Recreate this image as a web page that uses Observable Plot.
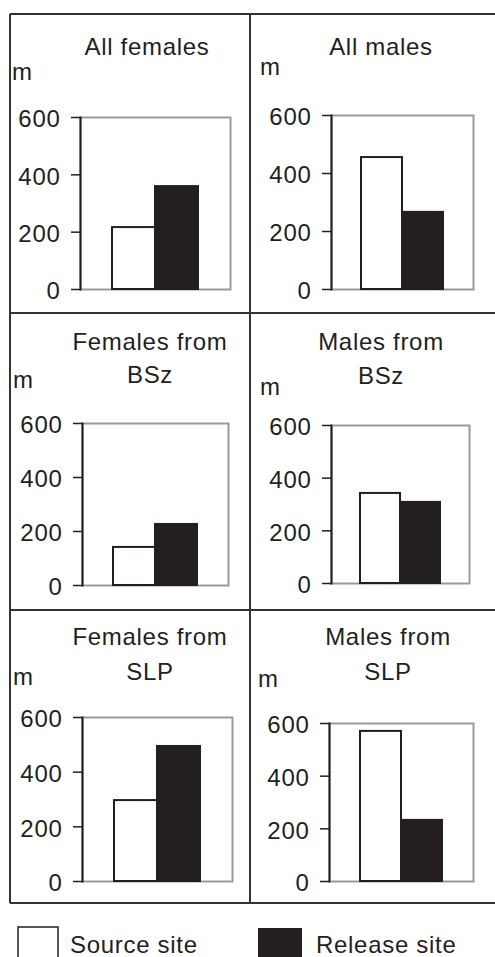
<!DOCTYPE html>
<html>
<head>
<meta charset="utf-8">
<script src="https://cdn.jsdelivr.net/npm/d3@7"></script>
<script src="https://cdn.jsdelivr.net/npm/@observablehq/plot@0.6"></script>
<style>
  html, body { margin: 0; padding: 0; background: #fff; }
  #root { position: relative; width: 495px; height: 957px; overflow: hidden; background: #fff;
          font-family: "Liberation Sans", Arial, Helvetica, sans-serif; color: #231f20; }
  .panel { position: absolute; }
  .panel svg { display: block; max-width: none; }
  #overlay { position: absolute; left: 0; top: 0; pointer-events: none; }
</style>
</head>
<body>
<div id="root"></div>
<script>
// ---- data ----
const panelNames = ["All females", "All males", "Females from BSz", "Males from BSz", "Females from SLP", "Males from SLP"];
const titleLines = [["All females"], ["All males"], ["Females from", "BSz"], ["Males from", "BSz"], ["Females from", "SLP"], ["Males from", "SLP"]];
const sites = ["Source site", "Release site"];
const sourceValues = [216, 455, 141, 342, 296, 570];
const releaseValues = [359, 266, 226, 308, 494, 232];
const yTicks = [0, 200, 400, 600];
const unitLabel = "m";

// ---- layout ----
const INK = "#231f20";
const FONT = '"Liberation Sans", Arial, Helvetica, sans-serif';
const layout = [
  {x: 10,  y: 14,  w: 240, h: 299, fl: 80,  fr: 230, ft: 117, fb: 289, tc: 147, tb: [55],       mx: 12,  mb: 80},
  {x: 250, y: 14,  w: 245, h: 299, fl: 331, fr: 473, ft: 115, fb: 289, tc: 381, tb: [55],       mx: 260, mb: 75},
  {x: 10,  y: 313, w: 240, h: 297, fl: 82,  fr: 228, ft: 423, fb: 585, tc: 150, tb: [350, 383], mx: 13,  mb: 388},
  {x: 250, y: 313, w: 245, h: 297, fl: 331, fr: 469, ft: 425, fb: 583, tc: 381, tb: [350, 384], mx: 260, mb: 395},
  {x: 10,  y: 610, w: 240, h: 293, fl: 82,  fr: 232, ft: 717, fb: 881, tc: 150, tb: [645, 680], mx: 13,  mb: 685},
  {x: 250, y: 610, w: 245, h: 293, fl: 329, fr: 473, ft: 723, fb: 881, tc: 388, tb: [645, 680], mx: 258, mb: 687}
];

const root = document.getElementById("root");

panelNames.forEach((name, i) => {
  const L = layout[i];
  const rows = sites.map((s, k) => ({panel: name, site: s, value: k === 0 ? sourceValues[i] : releaseValues[i]}));
  const chart = Plot.plot({
    width: L.w,
    height: L.h,
    marginLeft: L.fl - L.x,
    marginRight: L.x + L.w - L.fr,
    marginTop: L.ft - L.y,
    marginBottom: L.y + L.h - L.fb,
    style: {fontSize: "24px", fontFamily: FONT, color: INK, background: "transparent", letterSpacing: "0.7px"},
    x: {domain: sites, paddingInner: 0, paddingOuter: 0.72, axis: null},
    y: {domain: [0, 600], ticks: yTicks, label: null},
    marks: [
      Plot.frame({stroke: "#9a9a9a", strokeWidth: 2}),
      Plot.frame({anchor: "left", stroke: INK, strokeWidth: 2}),
      Plot.barY(rows, {x: "site", y: "value", fill: d => d.site === sites[0] ? "#ffffff" : INK, stroke: INK, strokeWidth: 2}),
      Plot.axisY(yTicks, {tickSize: 9, tickFormat: () => "", strokeWidth: 1.5, label: null}),
      Plot.axisY(yTicks, {tickSize: 0, tickPadding: 20, label: null, fill: INK, dy: 2})
    ]
  });
  const wrap = document.createElement("div");
  wrap.className = "panel";
  wrap.style.left = L.x + "px";
  wrap.style.top = L.y + "px";
  wrap.appendChild(chart);
  root.appendChild(wrap);
});

// ---- overlay: borders, titles, unit labels, legend ----
const svg = d3.select(root).append("svg")
  .attr("id", "overlay").attr("width", 495).attr("height", 957)
  .style("font-family", FONT).style("font-size", "24px").style("letter-spacing", "0.7px");

const borderColor = "#333";
[14, 313, 610, 903].forEach(y => svg.append("line").attr("x1", 10).attr("x2", 495).attr("y1", y).attr("y2", y)
  .attr("stroke", borderColor).attr("stroke-width", 2));
[10, 250].forEach(x => svg.append("line").attr("x1", x).attr("x2", x).attr("y1", 14).attr("y2", 903)
  .attr("stroke", borderColor).attr("stroke-width", 2));

layout.forEach((L, i) => {
  titleLines[i].forEach((t, j) => svg.append("text").attr("x", L.tc).attr("y", L.tb[j])
    .attr("text-anchor", "middle").attr("fill", INK).text(t));
  svg.append("text").attr("x", L.mx).attr("y", L.mb).attr("fill", INK).text(unitLabel);
});

// legend
svg.append("rect").attr("x", 18).attr("y", 927).attr("width", 40).attr("height", 40)
  .attr("fill", "#fff").attr("stroke", INK).attr("stroke-width", 1.5);
svg.append("text").attr("x", 70).attr("y", 953).attr("fill", INK).text(sites[0]);
svg.append("rect").attr("x", 258).attr("y", 928).attr("width", 44).attr("height", 40)
  .attr("fill", INK);
svg.append("text").attr("x", 316).attr("y", 953).attr("fill", INK).text(sites[1]);
</script>
</body>
</html>
